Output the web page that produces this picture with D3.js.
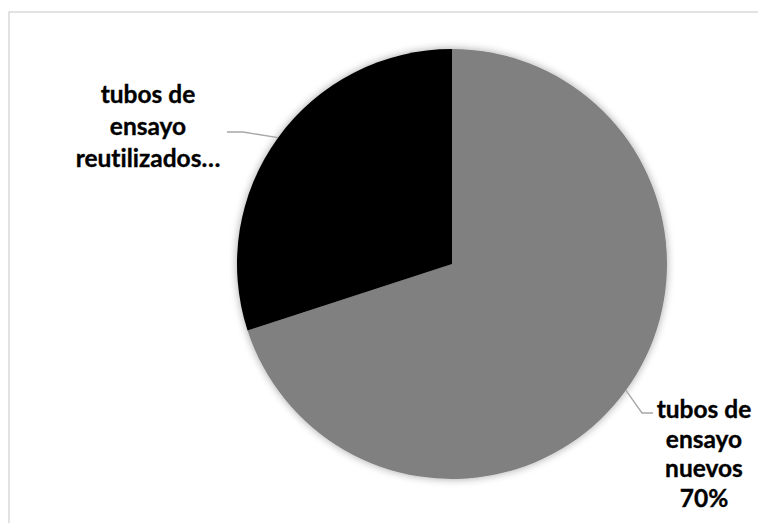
<!DOCTYPE html>
<html>
<head>
<meta charset="utf-8">
<script src="https://cdn.jsdelivr.net/npm/d3@7"></script>
<style>
  html, body { margin: 0; padding: 0; background: #fff; }
  svg { display: block; }
  .lbl { font-family: Lato, "Open Sans", sans-serif; font-weight: bold; font-size: 24.5px; fill: #000;
         stroke: #000; stroke-width: 0.35px; font-variant-ligatures: none; }
</style>
</head>
<body>
<svg></svg>
<script>
var categories = ["tubos de ensayo nuevos", "tubos de ensayo reutilizados"];
var values = [70, 30];
var labelLines = [
    ["tubos de", "ensayo", "nuevos", "70%"],
    ["tubos de", "ensayo", "reutilizados…"]
];
var colors = ["#808080", "#000000"];

function init() {

    var w = 758;
    var h = 523;

    var svg = d3.select("svg")
                .attr("width", w)
                .attr("height", h);

    // chart area border (runs off the right and bottom edge)
    svg.append("rect")
        .attr("x", 9)
        .attr("y", 12)
        .attr("width", 780)
        .attr("height", 540)
        .attr("fill", "none")
        .attr("stroke", "#d9d9d9")
        .attr("stroke-width", 1.5);

    var defs = svg.append("defs");
    var f = defs.append("filter")
        .attr("id", "shadow")
        .attr("x", "-10%").attr("y", "-10%")
        .attr("width", "120%").attr("height", "120%");
    f.append("feGaussianBlur")
        .attr("in", "SourceAlpha")
        .attr("stdDeviation", 4)
        .attr("result", "blur");
    f.append("feComponentTransfer")
        .attr("in", "blur")
        .attr("result", "soft")
        .append("feFuncA").attr("type", "linear").attr("slope", 0.35);
    var merge = f.append("feMerge");
    merge.append("feMergeNode").attr("in", "soft");
    merge.append("feMergeNode").attr("in", "SourceGraphic");

    var cx = 452;
    var cy = 264;
    var outerRadius = 215;

    var arc = d3.arc()
                .outerRadius(outerRadius)
                .innerRadius(0);

    var pie = d3.pie().sort(null);

    var g = svg.append("g")
               .attr("transform", "translate(" + cx + "," + cy + ")");

    var slices = pie(values);

    g.append("g")
        .attr("filter", "url(#shadow)")
        .selectAll("path")
        .data(slices)
        .enter()
        .append("path")
        .attr("fill", function(d, i) { return colors[i]; })
        .attr("d", arc);

    // leader lines: from slice edge at mid-angle to label
    function edge(d) {
        var a = (d.startAngle + d.endAngle) / 2;
        return [Math.sin(a) * outerRadius, -Math.cos(a) * outerRadius];
    }

    var labelPos = [
        { x: 704 - cx, y: 418 - cy, lh: 29.5,
          line: function(p) { return [p, [642 - cx, 413 - cy], [653 - cx, 413 - cy]]; } },
        { x: 148 - cx, y: 103 - cy, lh: 32,
          line: function(p) { return [p, [243 - cx, 132 - cy], [227 - cx, 132 - cy]]; } }
    ];

    slices.forEach(function(d, i) {
        var lp = labelPos[i];
        g.append("path")
            .attr("d", d3.line()(lp.line(edge(d))))
            .attr("fill", "none")
            .attr("stroke", "#a6a6a6")
            .attr("stroke-width", 1.3);

        var t = g.append("text")
            .attr("class", "lbl")
            .attr("text-anchor", "middle");
        labelLines[i].forEach(function(s, j) {
            t.append("tspan")
                .attr("x", lp.x)
                .attr("y", lp.y + j * lp.lh)
                .text(s);
        });
    });
}
window.onload = init;
</script>
</body>
</html>
